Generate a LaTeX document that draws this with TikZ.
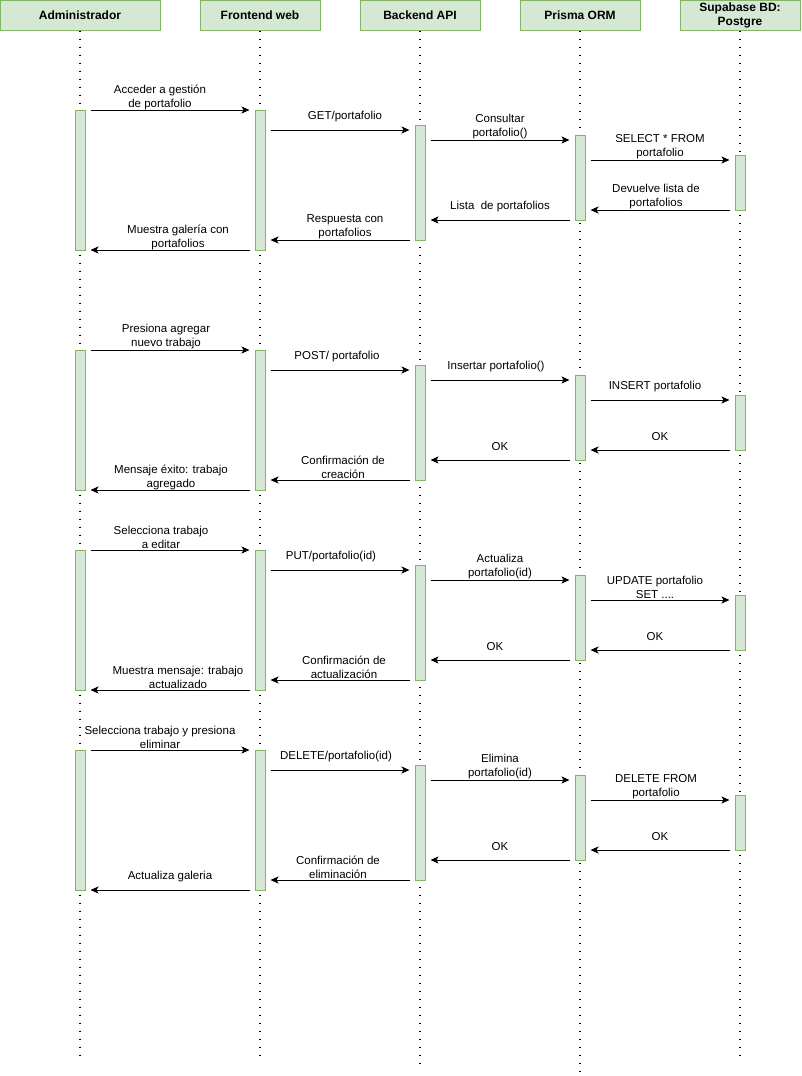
\documentclass[tikz,border=0pt]{standalone}
\usepackage{fontspec}
\setmainfont{Liberation Sans}
\usetikzlibrary{arrows.meta}
\definecolor{boxfill}{HTML}{D5E8D4}
\definecolor{boxline}{HTML}{82B366}
\begin{document}
\begin{tikzpicture}[x=1pt,y=-1pt,
  header/.style={draw=boxline,fill=boxfill,line width=1pt,minimum height=30,inner sep=0pt,
    align=center,font=\fontsize{12}{14}\selectfont\bfseries},
  actbar/.style={draw=boxline,fill=boxfill,line width=1pt,minimum width=10,inner sep=0pt},
  lifeline/.style={line width=1.9pt,dash pattern=on 1.9pt off 6.1pt},
  msg/.style={line width=1pt,-{Stealth[length=8pt,width=7pt,inset=2pt]},shorten <=5pt,shorten >=5pt},
  lbl/.style={align=center,inner sep=0pt,yshift=13,font=\fontsize{11.5}{14}\selectfont}]
\useasboundingbox (0,0) rectangle (801,1076);

% participants
\node[header,minimum width=160] (adm) at (80,15) {Administrador};
\node[header,minimum width=120] (fe) at (260,15) {Frontend web};
\node[header,minimum width=120] (be) at (420,15) {Backend API};
\node[header,minimum width=120] (orm) at (580,15) {Prisma ORM};
\node[header,minimum width=120] (db) at (740,15) {Supabase BD:\\Postgre};

% lifelines
\coordinate (admEnd) at (80,1061);
\coordinate (feEnd) at (260,1059);
\coordinate (beEnd) at (420,1069);
\coordinate (ormEnd) at (580,1072);
\coordinate (dbEnd) at (740,1061);
\draw[lifeline] (adm.south) -- (admEnd);
\draw[lifeline] (fe.south) -- (feEnd);
\draw[lifeline] (be.south) -- (beEnd);
\draw[lifeline] (orm.south) -- (ormEnd);
\draw[lifeline] (db.south) -- (dbEnd);

% activation bars, one set per interaction
\foreach \k/\d in {1/0,2/240,3/440,4/640}{
  \node[actbar,minimum height=140] (a\k) at (80,180+\d) {};
  \node[actbar,minimum height=140] (f\k) at (260,180+\d) {};
  \node[actbar,minimum height=115] (b\k) at (420,182.5+\d) {};
  \node[actbar,minimum height=85] (p\k) at (580,177.5+\d) {};
  \node[actbar,minimum height=55] (s\k) at (740,182.5+\d) {};
}

% listing portfolios
\draw[msg] (a1.east |- 0,110) -- node[lbl,xshift=-10]{Acceder a gestión\\de portafolio} (f1.west |- 0,110);
\draw[msg] (f1.east |- 0,130) -- node[lbl,xshift=5]{GET/portafolio} (b1.west |- 0,130);
\draw[msg] (b1.east |- 0,140) -- node[lbl]{Consultar\\portafolio()} (p1.west |- 0,140);
\draw[msg] (p1.east |- 0,160) -- node[lbl]{SELECT * FROM\\portafolio} (s1.west |- 0,160);
\draw[msg] (s1.west |- 0,210) -- node[lbl,xshift=-4]{Devuelve lista de\\portafolios} (p1.east |- 0,210);
\draw[msg] (p1.west |- 0,220) -- node[lbl]{Lista\ \ de portafolios} (b1.east |- 0,220);
\draw[msg] (b1.west |- 0,240) -- node[lbl,xshift=5]{Respuesta con\\portafolios} (f1.east |- 0,240);
\draw[msg] (f1.west |- 0,250) -- node[lbl,xshift=8]{Muestra galería con\\portafolios} (a1.east |- 0,250);

% adding a work
\draw[msg] (a2.east |- 0,350) -- node[lbl,xshift=-4]{Presiona agregar\\nuevo trabajo} (f2.west |- 0,350);
\draw[msg] (f2.east |- 0,370) -- node[lbl,xshift=-3]{POST/ portafolio} (b2.west |- 0,370);
\draw[msg] (b2.east |- 0,380) -- node[lbl,xshift=-4]{Insertar portafolio()} (p2.west |- 0,380);
\draw[msg] (p2.east |- 0,400) -- node[lbl,xshift=-5]{INSERT portafolio} (s2.west |- 0,400);
\draw[msg] (s2.west |- 0,450) -- node[lbl]{OK} (p2.east |- 0,450);
\draw[msg] (p2.west |- 0,460) -- node[lbl]{OK} (b2.east |- 0,460);
\draw[msg] (b2.west |- 0,480) -- node[lbl,xshift=3]{Confirmación de\\creación} (f2.east |- 0,480);
\draw[msg] (f2.west |- 0,490) -- node[lbl,xshift=1]{Mensaje éxito: trabajo\\agregado} (a2.east |- 0,490);

% editing a work
\draw[msg] (a3.east |- 0,550) -- node[lbl,xshift=-9]{Selecciona trabajo\\a editar} (f3.west |- 0,550);
\draw[msg] (f3.east |- 0,570) -- node[lbl,xshift=-9]{PUT/portafolio(id)} (b3.west |- 0,570);
\draw[msg] (b3.east |- 0,580) -- node[lbl]{Actualiza\\portafolio(id)} (p3.west |- 0,580);
\draw[msg] (p3.east |- 0,600) -- node[lbl,xshift=-5]{UPDATE portafolio\\SET ....} (s3.west |- 0,600);
\draw[msg] (s3.west |- 0,650) -- node[lbl,xshift=-5]{OK} (p3.east |- 0,650);
\draw[msg] (p3.west |- 0,660) -- node[lbl,xshift=-5]{OK} (b3.east |- 0,660);
\draw[msg] (b3.west |- 0,680) -- node[lbl,xshift=4]{Confirmación de\\actualización} (f3.east |- 0,680);
\draw[msg] (f3.west |- 0,690) -- node[lbl,xshift=8]{Muestra mensaje: trabajo\\actualizado} (a3.east |- 0,690);

% deleting a work
\draw[msg] (a4.east |- 0,750) -- node[lbl,xshift=-10]{Selecciona trabajo y presiona\\eliminar} (f4.west |- 0,750);
\draw[msg] (f4.east |- 0,770) -- node[lbl,xshift=-4]{DELETE/portafolio(id)} (b4.west |- 0,770);
\draw[msg] (b4.east |- 0,780) -- node[lbl]{Elimina\\portafolio(id)} (p4.west |- 0,780);
\draw[msg] (p4.east |- 0,800) -- node[lbl,xshift=-4]{DELETE FROM\\portafolio} (s4.west |- 0,800);
\draw[msg] (s4.west |- 0,850) -- node[lbl]{OK} (p4.east |- 0,850);
\draw[msg] (p4.west |- 0,860) -- node[lbl]{OK} (b4.east |- 0,860);
\draw[msg] (b4.west |- 0,880) -- node[lbl,xshift=-2]{Confirmación de\\eliminación} (f4.east |- 0,880);
\draw[msg] (f4.west |- 0,890) -- node[lbl]{Actualiza galeria} (a4.east |- 0,890);
\end{tikzpicture}
\end{document}
